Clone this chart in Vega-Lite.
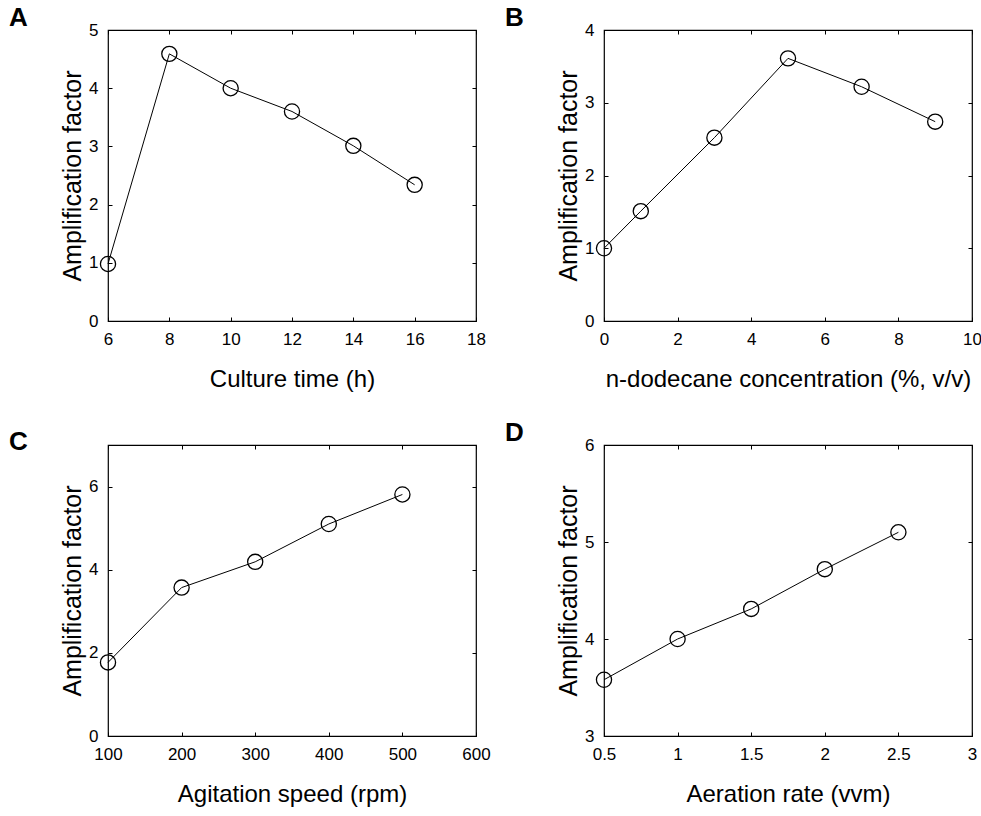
{
  "$schema": "https://vega.github.io/schema/vega-lite/v6.json",
  "background": "white",
  "padding": {"left": 8, "top": 4, "right": 0, "bottom": 0},
  "columns": 2,
  "spacing": {"column": 13, "row": 27},
  "config": {
    "font": "Liberation Sans",
    "view": {"stroke": "black", "strokeWidth": 1.2},
    "axis": {
      "grid": false, "domain": false,
      "tickColor": "black", "tickSize": -4, "tickWidth": 1,
      "labelFont": "Liberation Sans", "labelFontSize": 17, "labelColor": "black", "labelPadding": 14,
      "titleFont": "Liberation Sans", "titleFontSize": 24, "titleFontWeight": "normal", "titleColor": "black",
      "labelFlush": false, "labelOverlap": false
    },
    "axisX": {"titlePadding": 20},
    "axisY": {"titlePadding": 3, "titleFontSize": 25},
    "title": {"font": "Liberation Sans", "fontSize": 26, "fontWeight": "bold", "color": "black", "anchor": "start", "frame": "group", "dx": -99, "offset": -10}
  },
  "concat": [
    {
      "title": "A",
      "width": 368, "height": 291,
      "data": {"values": [
        {"x": 6, "y": 0.98}, {"x": 8, "y": 4.59}, {"x": 10, "y": 4.0},
        {"x": 12, "y": 3.6}, {"x": 14, "y": 3.01}, {"x": 16, "y": 2.34}
      ]},
      "layer": [
        {"mark": {"type": "line", "color": "black", "strokeWidth": 1},
         "encoding": {
           "x": {"field": "x", "type": "quantitative", "scale": {"domain": [6, 18], "nice": false, "zero": false},
                 "axis": {"orient": "bottom", "values": [6, 8, 10, 12, 14, 16, 18], "title": "Culture time (h)"}},
           "y": {"field": "y", "type": "quantitative", "scale": {"domain": [0, 5], "nice": false},
                 "axis": {"orient": "left", "values": [0, 1, 2, 3, 4, 5], "title": "Amplification factor"}}
         }},
        {"mark": {"type": "point", "shape": "circle", "filled": false, "size": 230, "color": "black", "strokeWidth": 1.3, "opacity": 1},
         "encoding": {
           "x": {"field": "x", "type": "quantitative", "axis": {"orient": "top", "values": [6, 8, 10, 12, 14, 16, 18], "labels": false, "title": null}},
           "y": {"field": "y", "type": "quantitative", "axis": {"orient": "right", "values": [0, 1, 2, 3, 4, 5], "labels": false, "title": null}}
         }}
      ],
      "resolve": {"axis": {"x": "independent", "y": "independent"}}
    },
    {
      "title": "B",
      "width": 368, "height": 291,
      "data": {"values": [
        {"x": 0, "y": 1.0}, {"x": 1, "y": 1.51}, {"x": 3, "y": 2.52},
        {"x": 5, "y": 3.61}, {"x": 7, "y": 3.22}, {"x": 9, "y": 2.74}
      ]},
      "layer": [
        {"mark": {"type": "line", "color": "black", "strokeWidth": 1},
         "encoding": {
           "x": {"field": "x", "type": "quantitative", "scale": {"domain": [0, 10], "nice": false},
                 "axis": {"orient": "bottom", "values": [0, 2, 4, 6, 8, 10], "title": "n-dodecane concentration (%, v/v)"}},
           "y": {"field": "y", "type": "quantitative", "scale": {"domain": [0, 4], "nice": false},
                 "axis": {"orient": "left", "values": [0, 1, 2, 3, 4], "title": "Amplification factor"}}
         }},
        {"mark": {"type": "point", "shape": "circle", "filled": false, "size": 230, "color": "black", "strokeWidth": 1.3, "opacity": 1},
         "encoding": {
           "x": {"field": "x", "type": "quantitative", "axis": {"orient": "top", "values": [0, 2, 4, 6, 8, 10], "labels": false, "title": null}},
           "y": {"field": "y", "type": "quantitative", "axis": {"orient": "right", "values": [0, 1, 2, 3, 4], "labels": false, "title": null}}
         }}
      ],
      "resolve": {"axis": {"x": "independent", "y": "independent"}}
    },
    {
      "title": "C",
      "width": 368, "height": 291,
      "data": {"values": [
        {"x": 100, "y": 1.77}, {"x": 200, "y": 3.57}, {"x": 300, "y": 4.19},
        {"x": 400, "y": 5.1}, {"x": 500, "y": 5.81}
      ]},
      "layer": [
        {"mark": {"type": "line", "color": "black", "strokeWidth": 1},
         "encoding": {
           "x": {"field": "x", "type": "quantitative", "scale": {"domain": [100, 600], "nice": false, "zero": false},
                 "axis": {"orient": "bottom", "values": [100, 200, 300, 400, 500, 600], "title": "Agitation speed (rpm)"}},
           "y": {"field": "y", "type": "quantitative", "scale": {"domain": [0, 7], "nice": false},
                 "axis": {"orient": "left", "values": [0, 2, 4, 6], "title": "Amplification factor"}}
         }},
        {"mark": {"type": "point", "shape": "circle", "filled": false, "size": 230, "color": "black", "strokeWidth": 1.3, "opacity": 1},
         "encoding": {
           "x": {"field": "x", "type": "quantitative", "axis": {"orient": "top", "values": [100, 200, 300, 400, 500, 600], "labels": false, "title": null}},
           "y": {"field": "y", "type": "quantitative", "axis": {"orient": "right", "values": [0, 2, 4, 6], "labels": false, "title": null}}
         }}
      ],
      "resolve": {"axis": {"x": "independent", "y": "independent"}}
    },
    {
      "title": "D",
      "width": 368, "height": 291,
      "data": {"values": [
        {"x": 0.5, "y": 3.58}, {"x": 1.0, "y": 4.0}, {"x": 1.5, "y": 4.31},
        {"x": 2.0, "y": 4.72}, {"x": 2.5, "y": 5.1}
      ]},
      "layer": [
        {"mark": {"type": "line", "color": "black", "strokeWidth": 1},
         "encoding": {
           "x": {"field": "x", "type": "quantitative", "scale": {"domain": [0.5, 3], "nice": false, "zero": false},
                 "axis": {"orient": "bottom", "values": [0.5, 1, 1.5, 2, 2.5, 3], "format": "~g", "title": "Aeration rate (vvm)"}},
           "y": {"field": "y", "type": "quantitative", "scale": {"domain": [3, 6], "nice": false, "zero": false},
                 "axis": {"orient": "left", "values": [3, 4, 5, 6], "title": "Amplification factor"}}
         }},
        {"mark": {"type": "point", "shape": "circle", "filled": false, "size": 230, "color": "black", "strokeWidth": 1.3, "opacity": 1},
         "encoding": {
           "x": {"field": "x", "type": "quantitative", "axis": {"orient": "top", "values": [0.5, 1, 1.5, 2, 2.5, 3], "labels": false, "title": null}},
           "y": {"field": "y", "type": "quantitative", "axis": {"orient": "right", "values": [3, 4, 5, 6], "labels": false, "title": null}}
         }}
      ],
      "resolve": {"axis": {"x": "independent", "y": "independent"}}
    }
  ]
}
